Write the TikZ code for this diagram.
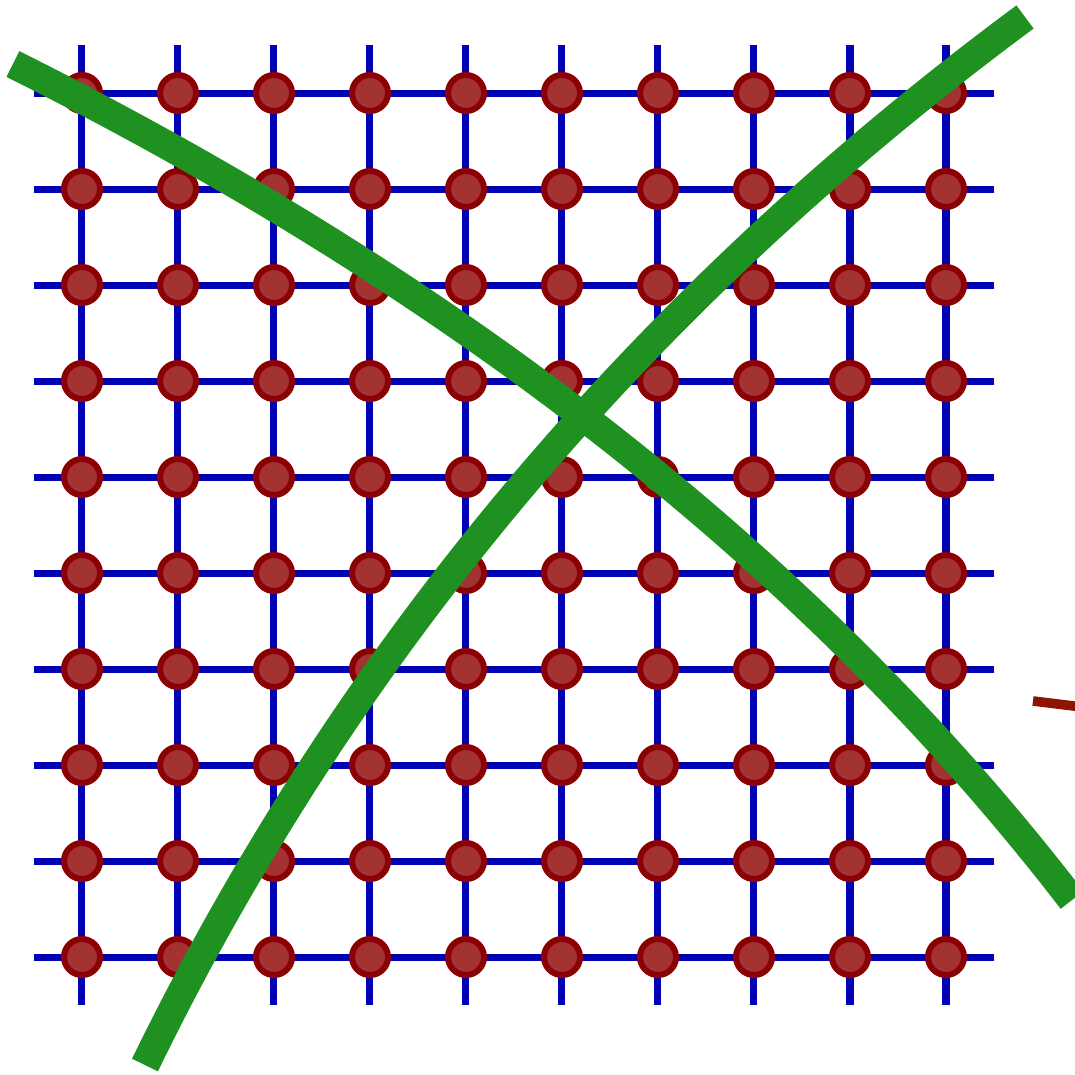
\documentclass[tikz,border=0pt]{standalone}
\usetikzlibrary{positioning}

\definecolor{gridblue}{RGB}{0,0,180}
\definecolor{sitefill}{RGB}{163,51,51}
\definecolor{siteborder}{RGB}{139,0,0}
\definecolor{crossgreen}{RGB}{30,145,32}
\definecolor{rimbrown}{RGB}{140,20,0}

\begin{document}
\begin{tikzpicture}[
  bond/.style={draw=gridblue, line width=0.073cm},
  site/.style={circle, draw=siteborder, fill=sitefill, line width=0.0625cm, minimum size=0.375cm, inner sep=0pt},
  cross/.style={draw=crossgreen, line width=0.3cm},
  rim/.style={draw=rimbrown, line width=0.1cm}
]
\clip (-0.854,-1.219) rectangle (10.344,9.969);
\useasboundingbox (-0.854,-1.219) rectangle (10.344,9.969);

% lattice bonds
\foreach \k in {0,...,9} {
  \draw[bond] (-0.5,\k) -- (9.5,\k);
  \draw[bond] (\k,-0.5) -- (\k,9.5);
}

% lattice sites
\foreach \i in {0,...,9}
  \foreach \j in {0,...,9}
    \node[site] (s-\i-\j) at (\i,\j) {};

% crossing out
\coordinate (c1a) at (-0.719,9.302);
\coordinate (c1b) at (10.313,0.594);
\coordinate (c2a) at (0.656,-1.125);
\coordinate (c2b) at (9.823,9.792);
\draw[cross] (c1a) .. controls (3.976,6.955) and (7.653,4.052) .. (c1b);
\draw[cross] (c2a) .. controls (2.760,3.188) and (5.816,6.826) .. (c2b);

\coordinate (r1) at (9.906,2.667);
\coordinate (r2) at (10.45,2.60);
\draw[rim] (r1) -- (r2);

\end{tikzpicture}
\end{document}
